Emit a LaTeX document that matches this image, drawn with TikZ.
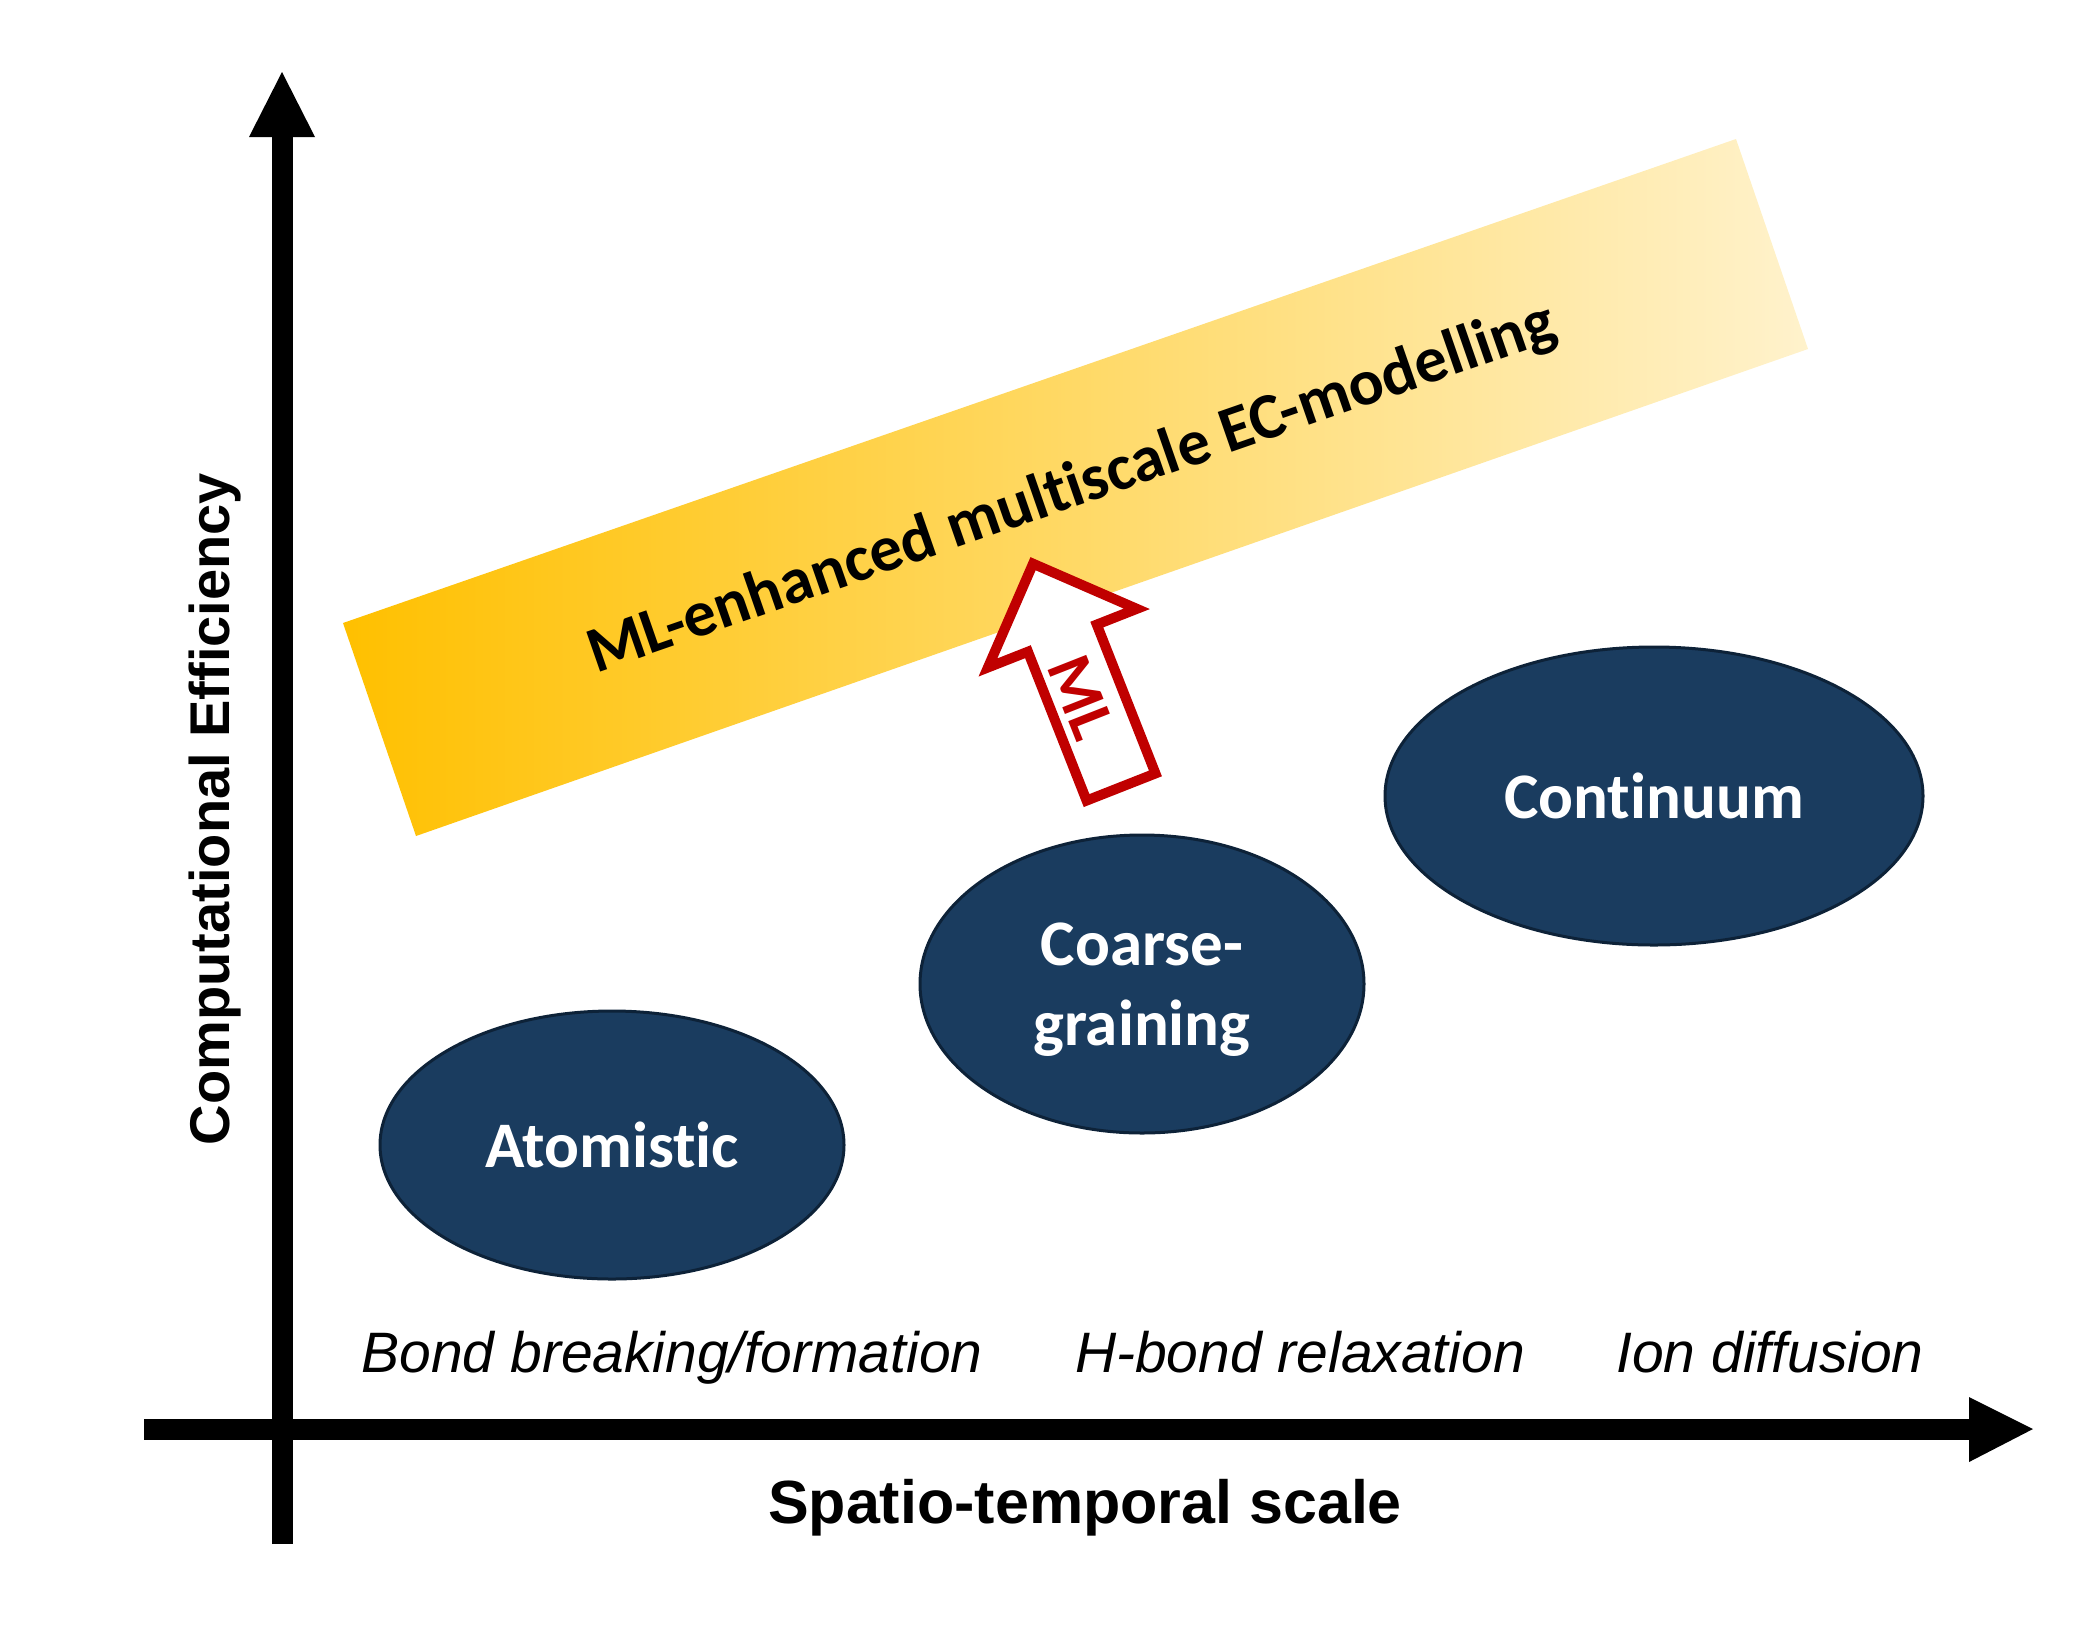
\documentclass[tikz,border=0pt]{standalone}
\usepackage{fontspec}
\setmainfont{Carlito}[Ligatures=NoCommon]
\newfontfamily\arialfont{Liberation Sans}
\usetikzlibrary{shapes.geometric}
\newcommand{\tI}{t\kern0pt i}
\definecolor{navy}{HTML}{1A3C5F}
\definecolor{navyline}{HTML}{0D2238}
\definecolor{bandL}{HTML}{FFC000}
\definecolor{bandR}{HTML}{FFF2CC}
\definecolor{mlred}{HTML}{C00000}
\tikzset{
  blob/.style={ellipse, draw=navyline, line width=3pt, fill=navy, text=white,
    inner sep=0pt, align=center, font=\bfseries\fontsize{65}{80}\selectfont},
  axisline/.style={line width=21pt, black},
  axishead/.style={fill=black},
  scalelabel/.style={anchor=base, font=\arialfont\itshape\fontsize{57}{68}\selectfont},
  axislabel/.style={anchor=base, font=\arialfont\bfseries\fontsize{56}{68}\selectfont},
  bandlabel/.style={anchor=base, font=\bfseries\fontsize{65}{78}\selectfont},
  mlarrow/.style={draw=mlred, line width=10pt, fill=white, line join=miter, miter limit=10},
}
\begin{document}
\begin{tikzpicture}[x=1pt, y=-1pt]
\useasboundingbox (0,0) rectangle (2100,1644);
% band
\coordinate (bTL) at (343,623);
\coordinate (bTR) at (1736,139);
\coordinate (bBR) at (1808,349);
\coordinate (bBL) at (416,836);
\shade[left color=bandL, right color=bandR] (bTL) -- (bTR) -- (bBR) -- (bBL) -- cycle;
\node[bandlabel, rotate=19.16] (bandtext) at (1078,506) {ML-enhanced mul\tI scale EC-modelling};
% axes
\coordinate (yb) at (282,1544);
\coordinate (yt) at (282,137);
\coordinate (xl) at (144,1429);
\coordinate (xr) at (1969,1429);
\draw[axisline] (yb) -- (yt);
\draw[axisline] (xl) -- (xr);
\fill[axishead] (249,137) -- (315,137) -- (282,72) -- cycle;
\fill[axishead] (1969,1397) -- (1969,1462) -- (2033,1429) -- cycle;
\node[axislabel, rotate=90] (ylab) at (229,809) {Computational Efficiency};
\node[axislabel, font=\arialfont\bfseries\fontsize{61}{72}\selectfont] (xlab) at (1085,1523) {Spatio-temporal scale};
% ML arrow
\begin{scope}[shift={(1121,787)}, rotate=21.5]
  \draw[mlarrow] (-37,0) -- (37,0) -- (37,-160) -- (80,-160) -- (0,-240) -- (-80,-160) -- (-37,-160) -- cycle;
\end{scope}
\node[text=mlred, rotate=-68.5, font=\bfseries\fontsize{64}{76}\selectfont, inner sep=0pt] (mltext) at (1081,697) {ML};
% ellipses
\node[blob, minimum width=464pt, minimum height=268pt] (atom) at (612,1145) {Atomis\tI c};
\node[blob, minimum width=444pt, minimum height=298pt, text depth=0pt] (coarse) at (1142,984) {Coarse-\\graining};
\node[blob, minimum width=538pt, minimum height=298pt] (cont) at (1654,796) {Con\tI nuum};
% scale labels
\node[scalelabel] (bond) at (672,1372) {Bond breaking/formation};
\node[scalelabel] (hbond) at (1300,1372) {H-bond relaxation};
\node[scalelabel] (ion) at (1770,1372) {Ion diffusion};
\end{tikzpicture}
\end{document}
